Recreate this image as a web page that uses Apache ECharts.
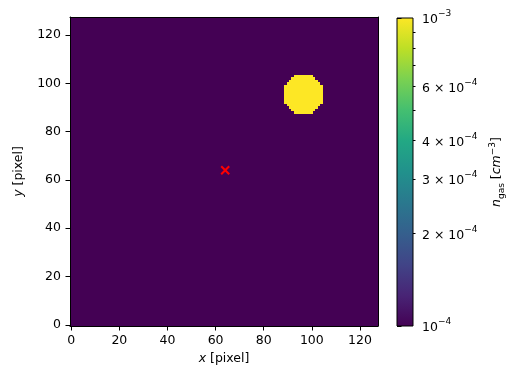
<!DOCTYPE html>
<html>
<head>
<meta charset="utf-8">
<script src="https://cdn.jsdelivr.net/npm/echarts@6/dist/echarts.min.js"></script>
<style>
html,body{margin:0;padding:0;background:#fff;}
#chart{width:517px;height:383px;}
</style>
</head>
<body>
<div id="chart"></div>
<script>
// ---------------- data ----------------
const imgSize = 128;                 // image is 128 x 128 pixels
const bgDensity = 1e-4;              // background gas density (cm^-3)
const clumpDensity = 1e-3;           // dense clump density (cm^-3)
// rows of the clump (y pixel) with first/last x pixel of the clump in that row
const clumpRows   = [88, 89, 90, 91, 92, 93, 94, 95, 96, 97, 98, 99, 100, 101, 102, 103];
const clumpXStart = [93, 92, 91, 90, 89, 89, 89, 89, 89, 89, 89, 89,  90,  91,  92,  93];
const clumpXEnd   = [100,101,102,103,104,104,104,104,104,104,104,104, 103, 102, 101, 100];
// marker (red x)
const markerX = [64];
const markerY = [64];
// axis ticks
const xTicks = [0, 20, 40, 60, 80, 100, 120];
const yTicks = [0, 20, 40, 60, 80, 100, 120];
// colour bar
const cbarMin = 1e-4;
const cbarMax = 1e-3;
const cbarMajorTicks = [1e-4, 1e-3];
const cbarMinorTicks = [2e-4, 3e-4, 4e-4, 5e-4, 6e-4, 7e-4, 8e-4, 9e-4];
const cbarLabelValues = [1e-4, 2e-4, 3e-4, 4e-4, 6e-4, 1e-3];
const cbarLabelMant   = [null, 2, 3, 4, 6, null];
const cbarLabelExp    = [-4, -4, -4, -4, -4, -3];
// viridis colour map stops
const viridis = ['#440154','#482475','#414487','#355f8d','#2a788e','#21918c',
                 '#22a884','#44bf70','#7ad151','#bddf26','#fde725'];

// ---------------- build image ----------------
const img = [];
for (let y = 0; y < imgSize; y++) {
  const row = new Array(imgSize).fill(bgDensity);
  img.push(row);
}
clumpRows.forEach((y, i) => {
  for (let x = clumpXStart[i]; x <= clumpXEnd[i]; x++) img[y][x] = clumpDensity;
});
// run-length segments per row: [x0, x1, y, value]
const runs = [];
for (let y = 0; y < imgSize; y++) {
  let x0 = 0;
  for (let x = 1; x <= imgSize; x++) {
    if (x === imgSize || img[y][x] !== img[y][x0]) {
      runs.push([x0, x - 1, y, img[y][x0]]);
      x0 = x;
    }
  }
}

function hexToRgb(h){return [parseInt(h.slice(1,3),16),parseInt(h.slice(3,5),16),parseInt(h.slice(5,7),16)];}
function colorFor(v){
  let t = (Math.log10(v) - Math.log10(cbarMin)) / (Math.log10(cbarMax) - Math.log10(cbarMin));
  t = Math.max(0, Math.min(1, t));
  const f = t * (viridis.length - 1);
  const i = Math.min(Math.floor(f), viridis.length - 2);
  const a = hexToRgb(viridis[i]), b = hexToRgb(viridis[i+1]);
  const u = f - i;
  const c = a.map((ai, k) => Math.round(ai + (b[k] - ai) * u));
  return 'rgb(' + c.join(',') + ')';
}

const lg = v => Math.max(Math.log10(cbarMin), Math.min(Math.log10(cbarMax), Math.log10(v)));
const font = 'DejaVu Sans';
const fs = 12.5;

const chart = echarts.init(document.getElementById('chart'), null, {renderer: 'canvas'});

const mainAxisCommon = {
  type: 'value', min: -0.5, max: imgSize - 0.5,
  splitLine: {show: false},
  axisLine: {show: true, onZero: false, lineStyle: {color: '#000', width: 1}},
  z: 10
};

const option = {
  animation: false,
  backgroundColor: '#fff',
  grid: [
    {left: 70, top: 17, width: 308, height: 309, containLabel: false},
    {left: 397, top: 18, width: 16, height: 308, containLabel: false}
  ],
  xAxis: [
    Object.assign({}, mainAxisCommon, {
      gridIndex: 0, position: 'bottom',
      axisTick: {show: true, length: 4.5, lineStyle: {color: '#000'}, customValues: xTicks},
      axisLabel: {show: true, margin: 8, color: '#000', fontFamily: font, fontSize: fs, customValues: xTicks},
      name: '{i|x} [pixel]', nameLocation: 'middle', nameGap: 21,
      nameTextStyle: {color: '#000', fontFamily: font, fontSize: fs,
        rich: {i: {fontStyle: 'italic', fontFamily: font, fontSize: fs, color: '#000'}}}
    }),
    Object.assign({}, mainAxisCommon, {
      gridIndex: 0, position: 'top',
      axisTick: {show: false}, axisLabel: {show: false}
    }),
    {type: 'value', gridIndex: 1, min: 0, max: 1, show: false}
  ],
  yAxis: [
    Object.assign({}, mainAxisCommon, {
      gridIndex: 0, position: 'left',
      axisTick: {show: true, length: 4.5, lineStyle: {color: '#000'}, customValues: yTicks},
      axisLabel: {show: true, margin: 9, color: '#000', fontFamily: font, fontSize: fs, customValues: yTicks},
      name: '{i|y} [pixel]', nameLocation: 'middle', nameGap: 45, nameRotate: 90,
      nameTextStyle: {color: '#000', fontFamily: font, fontSize: fs,
        rich: {i: {fontStyle: 'italic', fontFamily: font, fontSize: fs, color: '#000'}}}
    }),
    Object.assign({}, mainAxisCommon, {
      gridIndex: 0, position: 'right',
      axisTick: {show: false}, axisLabel: {show: false}
    }),
    {
      type: 'value', gridIndex: 1, position: 'right',
      min: Math.log10(cbarMin), max: Math.log10(cbarMax),
      splitLine: {show: false},
      axisLine: {show: false},
      axisTick: {show: true, length: 4.5, lineStyle: {color: '#000'}, customValues: cbarMajorTicks.map(lg)},
      axisLabel: {
        show: true, margin: 9, color: '#000', fontFamily: font, fontSize: fs,
        customValues: cbarLabelValues.map(lg),
        formatter: function (v) {
          let best = 0, bd = Infinity;
          cbarLabelValues.forEach((c, i) => { const d = Math.abs(lg(c) - v); if (d < bd) {bd = d; best = i;} });
          const m = cbarLabelMant[best];
          const e = '\u2212' + Math.abs(cbarLabelExp[best]);
          return (m === null ? '{m|10}' : '{m|' + m + ' \u00d7 10}') + '{e|' + e + '}';
        },
        rich: {
          m: {fontFamily: font, fontSize: fs, color: '#000', lineHeight: 17, verticalAlign: 'bottom'},
          e: {fontFamily: font, fontSize: 9, color: '#000', lineHeight: 17, verticalAlign: 'top'}
        }
      },
      name: '{i|n}{s|gas} [{i|cm}{e|\u22123}]', nameLocation: 'middle', nameGap: 75, nameRotate: 90,
      nameTextStyle: {color: '#000', fontFamily: font, fontSize: fs,
        rich: {
          i: {fontStyle: 'italic', fontFamily: font, fontSize: fs, color: '#000', lineHeight: 18, verticalAlign: 'middle'},
          s: {fontFamily: font, fontSize: 9, color: '#000', lineHeight: 18, verticalAlign: 'bottom'},
          e: {fontFamily: font, fontSize: 9, color: '#000', lineHeight: 18, verticalAlign: 'top'}
        }},
      z: 10
    },
    {
      type: 'value', gridIndex: 1, position: 'right',
      min: Math.log10(cbarMin), max: Math.log10(cbarMax),
      splitLine: {show: false}, axisLine: {show: false}, axisLabel: {show: false},
      axisTick: {show: true, length: 2.5, lineStyle: {color: '#000'}, customValues: cbarMinorTicks.map(lg)},
      z: 10
    }
  ],
  series: [
    {
      type: 'custom', xAxisIndex: 0, yAxisIndex: 0,
      data: runs,
      encode: {x: [0, 1], y: 2},
      renderItem: function (params, api) {
        const p0 = api.coord([api.value(0) - 0.5, api.value(2) + 0.5]);
        const p1 = api.coord([api.value(1) + 0.5, api.value(2) - 0.5]);
        const x0 = Math.round(p0[0]), y0 = Math.round(p0[1]);
        const x1 = Math.round(p1[0]), y1 = Math.round(p1[1]);
        return {type: 'rect', shape: {x: x0, y: y0, width: x1 - x0, height: y1 - y0},
          style: {fill: colorFor(api.value(3)), stroke: null}};
      },
      silent: true, z: 2
    },
    {
      type: 'custom', xAxisIndex: 0, yAxisIndex: 0,
      data: markerX.map((x, i) => [x, markerY[i]]),
      renderItem: function (params, api) {
        const c = api.coord([api.value(0), api.value(1)]);
        const r = 4;
        return {type: 'group', children: [
          {type: 'line', shape: {x1: c[0]-r, y1: c[1]-r, x2: c[0]+r, y2: c[1]+r}, style: {stroke: '#ff0000', lineWidth: 2}},
          {type: 'line', shape: {x1: c[0]-r, y1: c[1]+r, x2: c[0]+r, y2: c[1]-r}, style: {stroke: '#ff0000', lineWidth: 2}}
        ]};
      },
      silent: true, z: 5
    },
    {
      type: 'custom', xAxisIndex: 2, yAxisIndex: 2,
      data: [[0, Math.log10(cbarMin), 1, Math.log10(cbarMax)]],
      encode: {x: [0, 2], y: [1, 3]},
      renderItem: function (params, api) {
        const p0 = api.coord([api.value(0), api.value(3)]);
        const p1 = api.coord([api.value(2), api.value(1)]);
        return {type: 'rect', shape: {x: p0[0], y: p0[1], width: p1[0] - p0[0], height: p1[1] - p0[1]},
          style: {
            fill: {type: 'linear', x: 0, y: 1, x2: 0, y2: 0,
              colorStops: viridis.map((c, i) => ({offset: i / (viridis.length - 1), color: c}))},
            stroke: '#000', lineWidth: 1
          }};
      },
      silent: true, z: 2
    }
  ]
};
chart.setOption(option);
</script>
</body>
</html>
